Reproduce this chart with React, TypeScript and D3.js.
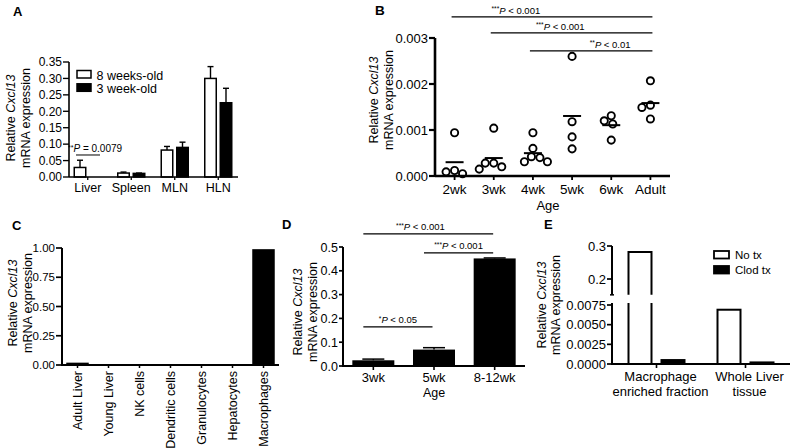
import React from 'react';
import * as d3 from 'd3';

const FONT = "'Liberation Sans', Arial, Helvetica, sans-serif";

// ---------- Panel A ----------
const aCategories = ['Liver', 'Spleen', 'MLN', 'HLN'];
const aSeries = ['8 weeks-old', '3 week-old'];
const a8wk = [0.029, 0.012, 0.082, 0.300];
const a8wkSem = [0.022, 0.003, 0.011, 0.036];
const a3wk = [0.0, 0.011, 0.090, 0.226];
const a3wkSem = [0.0, 0.001, 0.016, 0.044];
const aTicks = [0, 0.05, 0.1, 0.15, 0.2, 0.25, 0.3, 0.35];

// ---------- Panel B ----------
const bCategories = ['2wk', '3wk', '4wk', '5wk', '6wk', 'Adult'];
const b2wk = [0.00094, 0.00012, 0.00009, 0.00005];
const b3wk = [0.00104, 0.00028, 0.00028, 0.0002, 0.00015];
const b4wk = [0.00094, 0.0006, 0.00042, 0.0004, 0.00031, 0.00031];
const b5wk = [0.0026, 0.00118, 0.00085, 0.00059];
const b6wk = [0.00131, 0.0012, 0.00113, 0.00078];
const bAdult = [0.00207, 0.00154, 0.00149, 0.00124];
const bValues = [b2wk, b3wk, b4wk, b5wk, b6wk, bAdult];
const bTicks = [0, 0.001, 0.002, 0.003];
const bSig = [
  { from: '2wk', to: 'Adult', y: 0.00346, stars: '***', text: ' < 0.001', frac: 0.32 },
  { from: '3wk', to: 'Adult', y: 0.00311, stars: '***', text: ' < 0.001', frac: 0.43 },
  { from: '4wk', to: 'Adult', y: 0.00272, stars: '**', text: ' < 0.01', frac: 0.655 },
];

// ---------- Panel C ----------
const cCategories = ['Adult Liver', 'Young Liver', 'NK cells', 'Dendritic cells', 'Granulocytes', 'Hepatocytes', 'Macrophages'];
const cValues = [0.02, 0, 0, 0, 0, 0, 0.99];
const cTicks = [0, 0.25, 0.5, 0.75, 1.0];

// ---------- Panel D ----------
const dCategories = ['3wk', '5wk', '8-12wk'];
const dValues = [0.024, 0.069, 0.452];
const dSem = [0.005, 0.008, 0.002];
const dTicks = [0, 0.1, 0.2, 0.3, 0.4, 0.5];
const dSig = [
  { from: '3wk', to: '8-12wk', y: 0.555, stars: '***', text: ' < 0.001', frac: 0.44 },
  { from: '5wk', to: '8-12wk', y: 0.475, stars: '***', text: ' < 0.001', frac: 0.5 },
  { from: '3wk', to: '5wk', y: 0.164, stars: '*', text: ' < 0.05', frac: 0.5 },
];

// ---------- Panel E ----------
const eGroups = [['Macrophage', 'enriched fraction'], ['Whole Liver', 'tissue']];
const eSeries = ['No tx', 'Clod tx'];
const eNoTx = [0.282, 0.0069];
const eClodTx = [0.0005, 0.0002];
const eUpperTicks = [0.2, 0.3];
const eLowerTicks = [0, 0.0025, 0.005, 0.0075];

type Scale = (v: number) => number;

function YAxis({ scale, x, ticks, fmt, fontSize, tickLen = 5, width = 2, y1, y2 }: any) {
  return (
    <g>
      <line x1={x} x2={x} y1={y1} y2={y2} stroke="#000" strokeWidth={width} />
      {ticks.map((t: number) => (
        <g key={t}>
          <line x1={x - tickLen} x2={x} y1={scale(t)} y2={scale(t)} stroke="#000" strokeWidth={width * 0.85} />
          <text x={x - tickLen - 1} y={scale(t)} dy="0.36em" textAnchor="end" fontSize={fontSize}>
            {fmt(t)}
          </text>
        </g>
      ))}
    </g>
  );
}

function YLabel({ cx1, cx2, cy, fontSize = 12.5 }: any) {
  return (
    <g>
      <text transform={`translate(${cx1},${cy}) rotate(-90)`} textAnchor="middle" dy="0.35em" fontSize={fontSize}>
        Relative <tspan fontStyle="italic">Cxcl13</tspan>
      </text>
      <text transform={`translate(${cx2},${cy}) rotate(-90)`} textAnchor="middle" dy="0.35em" fontSize={fontSize}>
        mRNA expression
      </text>
    </g>
  );
}

function SigText({ x, y, stars, text, fontSize = 9.5, anchor = 'middle' }: any) {
  return (
    <text x={x} y={y} textAnchor={anchor} fontSize={fontSize}>
      <tspan fontSize={fontSize * 0.7} dy={-2.5}>{stars}</tspan>
      <tspan fontStyle="italic" dy={2.5}>P</tspan>
      <tspan>{text}</tspan>
    </text>
  );
}

function beeswarm(values: number[], y: Scale, D: number) {
  const order = values.map((v, i) => i).sort((a, b) => values[b] - values[a]);
  const placed: { x: number; y: number }[] = [];
  const res: number[] = new Array(values.length).fill(0);
  for (const i of order) {
    const py = y(values[i]);
    let chosen = 0;
    for (let k = 0; k < 200; k++) {
      const off = k === 0 ? 0 : (k % 2 === 1 ? -1 : 1) * Math.ceil(k / 2) * 0.5;
      const ok = placed.every((p) => Math.hypot(p.x - off, p.y - py) >= D);
      if (ok) { chosen = off; break; }
    }
    placed.push({ x: chosen, y: py });
    res[i] = chosen;
  }
  return res;
}

function PanelA() {
  const x = d3.scalePoint<string>().domain(aCategories).range([66, 240]).padding(0.5);
  const y = d3.scaleLinear().domain([0, 0.35]).range([177, 62]);
  const bw = 11.5, gap = 4;
  const series = [
    { vals: a8wk, sem: a8wkSem, fill: '#fff', off: -gap / 2 - bw },
    { vals: a3wk, sem: a3wkSem, fill: '#000', off: gap / 2 },
  ];
  return (
    <g>
      <text x={13} y={16} fontSize={13} fontWeight="bold">A</text>
      <YLabel cx1={11} cx2={25.5} cy={118} />
      {series.map((s, si) =>
        aCategories.map((c, i) => {
          const x0 = (x(c) as number) + s.off;
          const top = y(s.vals[i]);
          const cx = x0 + bw / 2;
          return (
            <g key={`${si}-${c}`}>
              {s.sem[i] > 0 && (
                <g stroke="#000" strokeWidth={1.4}>
                  <line x1={cx} x2={cx} y1={top} y2={y(s.vals[i] + s.sem[i])} />
                  <line x1={cx - 3} x2={cx + 3} y1={y(s.vals[i] + s.sem[i])} y2={y(s.vals[i] + s.sem[i])} />
                </g>
              )}
              {s.vals[i] > 0 && (
                <rect x={x0} y={top} width={bw} height={y(0) - top} fill={s.fill} stroke="#000" strokeWidth={1.5} />
              )}
            </g>
          );
        })
      )}
      {aCategories.map((c) => (
        <g key={c}>
          <line x1={x(c)} x2={x(c)} y1={177} y2={180} stroke="#000" strokeWidth={1.3} />
          <text x={x(c)} y={192} textAnchor="middle" fontSize={12.5}>{c}</text>
        </g>
      ))}
      <line x1={69} x2={238} y1={177} y2={177} stroke="#000" strokeWidth={1.6} />
      <YAxis scale={y} x={69} ticks={aTicks} fmt={d3.format('.2f')} fontSize={12} tickLen={6} width={1.6} y1={62} y2={177} />
      {aSeries.map((s, i) => (
        <g key={s}>
          <rect x={77} y={70.5 + i * 13.3} width={14} height={7.5} fill={i === 0 ? '#fff' : '#000'} stroke="#000" strokeWidth={1.5} />
          <text x={96.5} y={79.5 + i * 13} fontSize={12.5}>{s}</text>
        </g>
      ))}
      <line x1={76} x2={100} y1={y(0.067)} y2={y(0.067)} stroke="#000" strokeWidth={1} />
      <text x={68} y={152} fontSize={10}>
        <tspan fontSize={7} dy={-2.5}>**</tspan>
        <tspan fontStyle="italic" dy={2.5}>P</tspan>
        <tspan> = 0.0079</tspan>
      </text>
    </g>
  );
}

function PanelB() {
  const x = d3.scalePoint<string>().domain(bCategories).range([435, 670]).padding(0.5);
  const y = d3.scaleLinear().domain([0, 0.003]).range([176, 38]);
  return (
    <g>
      <text x={375} y={15} fontSize={13.5} fontWeight="bold">B</text>
      <YLabel cx1={374} cx2={389} cy={100} />
      {bSig.map((s, i) => {
        const x1 = (x(s.from) as number) - 3;
        const x2 = (x(s.to) as number) + 2;
        const yy = y(s.y);
        return (
          <g key={i}>
            <line x1={x1} x2={x2} y1={yy} y2={yy} stroke="#000" strokeWidth={1.2} />
            <SigText x={x1 + s.frac * (x2 - x1)} y={yy - 3} stars={s.stars} text={s.text} />
          </g>
        );
      })}
      {bCategories.map((c, ci) => {
        const vals = bValues[ci];
        const offs = beeswarm(vals, y, 8.4);
        const cx = x(c) as number;
        const m = d3.mean(vals) as number;
        return (
          <g key={c}>
            {vals.map((v, i) => (
              <circle key={i} cx={cx + offs[i]} cy={y(v)} r={3.6} fill="#fff" stroke="#000" strokeWidth={1.9} />
            ))}
            <line x1={cx - 9} x2={cx + 9} y1={y(m)} y2={y(m)} stroke="#000" strokeWidth={2} />
            <line x1={cx} x2={cx} y1={176} y2={180} stroke="#000" strokeWidth={1.8} />
            <text x={cx} y={193.5} textAnchor="middle" fontSize={13.5}>{c}</text>
          </g>
        );
      })}
      <line x1={435} x2={670} y1={176} y2={176} stroke="#000" strokeWidth={2.6} />
      <YAxis scale={y} x={435} ticks={bTicks} fmt={d3.format('.3f')} fontSize={13} tickLen={6} width={2.6} y1={38} y2={177} />
      <text x={548} y={210} textAnchor="middle" fontSize={13}>Age</text>
    </g>
  );
}

function PanelC() {
  const x = d3.scalePoint<string>().domain(cCategories).range([62, 279]).padding(0.5);
  const y = d3.scaleLinear().domain([0, 1]).range([365, 248]);
  const bw = 22.5;
  return (
    <g>
      <text x={12} y={230} fontSize={13} fontWeight="bold">C</text>
      <YLabel cx1={12.5} cx2={27.5} cy={303} />
      {cCategories.map((c, i) => {
        const cx = x(c) as number;
        return (
          <g key={c}>
            {cValues[i] > 0 && (
              <rect x={cx - bw / 2} y={y(cValues[i])} width={bw} height={y(0) - y(cValues[i])} fill="#000" />
            )}
            <line x1={cx} x2={cx} y1={365} y2={368} stroke="#000" strokeWidth={1.5} />
            <text transform={`translate(${cx},${371}) rotate(-90)`} textAnchor="end" dy="0.36em" fontSize={12.5}>{c}</text>
          </g>
        );
      })}
      <line x1={62} x2={279} y1={365} y2={365} stroke="#000" strokeWidth={2} />
      <YAxis scale={y} x={62} ticks={cTicks} fmt={d3.format('.2f')} fontSize={11.5} tickLen={6} width={2} y1={248} y2={366} />
    </g>
  );
}

function PanelD() {
  const x = d3.scalePoint<string>().domain(dCategories).range([343, 525]).padding(0.5);
  const y = d3.scaleLinear().domain([0, 0.5]).range([366, 247]);
  const bw = 42;
  return (
    <g>
      <text x={282} y={229} fontSize={13} fontWeight="bold">D</text>
      <YLabel cx1={298} cx2={313} cy={312} />
      {dSig.map((s, i) => {
        const x1 = (x(s.from) as number) - 10;
        const x2 = (x(s.to) as number) - 1.5;
        const yy = y(s.y);
        return (
          <g key={i}>
            <line x1={x1} x2={x2} y1={yy} y2={yy} stroke="#000" strokeWidth={1.2} />
            <SigText x={x1 + s.frac * (x2 - x1)} y={yy - 3.5} stars={s.stars} text={s.text} />
          </g>
        );
      })}
      {dCategories.map((c, i) => {
        const cx = x(c) as number;
        const top = y(dValues[i]);
        const et = y(dValues[i] + dSem[i]);
        return (
          <g key={c}>
            <line x1={cx} x2={cx} y1={top} y2={et} stroke="#000" strokeWidth={1.5} />
            <line x1={cx - 11} x2={cx + 11} y1={et} y2={et} stroke="#000" strokeWidth={1.5} />
            <rect x={cx - bw / 2} y={top} width={bw} height={y(0) - top} fill="#000" />
            <line x1={cx} x2={cx} y1={366} y2={370} stroke="#000" strokeWidth={1.6} />
            <text x={cx} y={382} textAnchor="middle" fontSize={13}>{c}</text>
          </g>
        );
      })}
      <line x1={343} x2={525} y1={366} y2={366} stroke="#000" strokeWidth={2} />
      <YAxis scale={y} x={343} ticks={dTicks} fmt={d3.format('.1f')} fontSize={12.5} tickLen={4} width={2} y1={247} y2={367} />
      <text x={434} y={397} textAnchor="middle" fontSize={12.5}>Age</text>
    </g>
  );
}

function PanelE() {
  const x = d3.scalePoint<number>().domain([0, 1]).range([612, 790]).padding(0.5);
  const yU = d3.scaleLinear().domain([0.2, 0.3]).range([279, 246]);
  const yL = d3.scaleLinear().domain([0, 0.0075]).range([364, 305]);
  const breakBottom = 303;
  const breakTop = yU(0.152);
  const lowerMax = yL.invert(breakBottom);
  const bw = 23, gap = 10;
  const series = [
    { vals: eNoTx, fill: '#fff', off: -gap / 2 - bw },
    { vals: eClodTx, fill: '#000', off: gap / 2 },
  ];
  return (
    <g>
      <text x={544} y={229} fontSize={13} fontWeight="bold">E</text>
      <YLabel cx1={542} cx2={555.5} cy={305} />
      {series.map((s, si) =>
        eGroups.map((g, i) => {
          const x0 = (x(i) as number) + s.off;
          const x1 = x0 + bw;
          const v = s.vals[i];
          if (v > lowerMax) {
            const top = yU(v);
            return (
              <g key={`${si}-${i}`}>
                <path d={`M${x0},${breakBottom} L${x0},${yL(0)} L${x1},${yL(0)} L${x1},${breakBottom}`} fill={s.fill} stroke="#000" strokeWidth={2} />
                <path d={`M${x0},${breakTop} L${x0},${top} L${x1},${top} L${x1},${breakTop}`} fill={s.fill} stroke="#000" strokeWidth={2} />
              </g>
            );
          }
          const top = yL(v);
          return (
            <rect key={`${si}-${i}`} x={x0} y={top} width={bw} height={Math.max(yL(0) - top, 0.5)} fill={s.fill} stroke="#000" strokeWidth={2} />
          );
        })
      )}
      {eGroups.map((g, i) => {
        const cx = x(i) as number;
        return (
          <g key={i}>
            <line x1={cx} x2={cx} y1={364} y2={368} stroke="#000" strokeWidth={1.6} />
            <text x={cx + 4} y={381} textAnchor="middle" fontSize={13}>{g[0]}</text>
            <text x={cx + 4} y={396} textAnchor="middle" fontSize={13}>{g[1]}</text>
          </g>
        );
      })}
      <line x1={612} x2={790} y1={364} y2={364} stroke="#000" strokeWidth={2} />
      <YAxis scale={yU} x={612} ticks={eUpperTicks} fmt={d3.format('.1f')} fontSize={13} tickLen={5} width={2} y1={246} y2={breakTop} />
      <line x1={610} x2={614} y1={breakTop} y2={breakTop} stroke="#000" strokeWidth={1.5} />
      <YAxis scale={yL} x={612} ticks={eLowerTicks} fmt={d3.format('.4f')} fontSize={13} tickLen={5} width={2} y1={breakBottom} y2={365} />
      {eSeries.map((s, i) => (
        <g key={s}>
          <rect x={714} y={251 + i * 15} width={15} height={7.5} fill={i === 0 ? '#fff' : '#000'} stroke="#000" strokeWidth={1.8} />
          <text x={735} y={259 + i * 15} fontSize={11.5}>{s}</text>
        </g>
      ))}
    </g>
  );
}

export default function App() {
  return (
    <svg
      width={792}
      height={448}
      viewBox="0 0 792 448"
      style={{ position: 'absolute', left: 0, top: 0, background: '#fff' }}
      fontFamily={FONT}
    >
      <rect width={792} height={448} fill="#fff" />
      <PanelA />
      <PanelB />
      <PanelC />
      <PanelD />
      <PanelE />
    </svg>
  );
}
